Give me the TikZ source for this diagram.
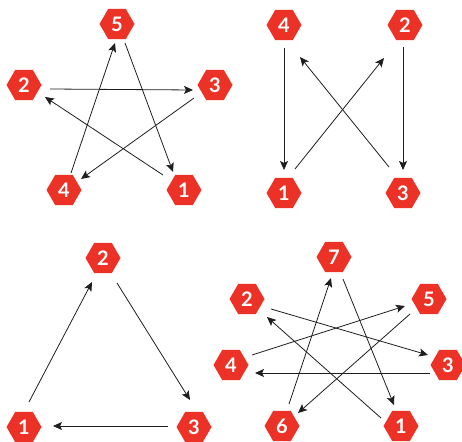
\documentclass[tikz,border=0pt]{standalone}
\usepackage{fontspec}
\setmainfont{Lato}
\usetikzlibrary{shapes.geometric,arrows.meta}
\definecolor{hexred}{RGB}{236,50,38}
\definecolor{ink}{RGB}{30,30,30}
\tikzset{
  hexnode/.style={regular polygon, regular polygon sides=6, shape border rotate=0,
    minimum size=35pt, inner sep=0pt, fill=hexred, draw=none, text=white,
    font=\fontsize{20}{20}\selectfont\bfseries},
  conn/.style={draw=ink, line width=0.8pt, -{Stealth[length=9pt,width=8pt,inset=2pt]}}
}
\begin{document}
\begin{tikzpicture}[x=1pt,y=-1pt]
\useasboundingbox (0,0) rectangle (462,441);
% ---- panel A: pentagram
\node[hexnode] (a5) at (117,24) {5};
\node[hexnode] (a2) at (24,85) {2};
\node[hexnode] (a3) at (215,85) {3};
\node[hexnode] (a4) at (64,190) {4};
\node[hexnode] (a1) at (184,190) {1};
\coordinate (a23s) at (50,89);  \coordinate (a23e) at (193,90);
\coordinate (a34s) at (194,98); \coordinate (a34e) at (81,179);
\coordinate (a45s) at (71,173); \coordinate (a45e) at (115,43);
\coordinate (a51s) at (125,43); \coordinate (a51e) at (173,172);
\coordinate (a12s) at (163,175);\coordinate (a12e) at (45,97);
\draw[conn] (a23s) -- (a23e);
\draw[conn] (a34s) -- (a34e);
\draw[conn] (a45s) -- (a45e);
\draw[conn] (a51s) -- (a51e);
\draw[conn] (a12s) -- (a12e);
% ---- panel B: square
\node[hexnode] (b4) at (284,25) {4};
\node[hexnode] (b2) at (405,25) {2};
\node[hexnode] (b1) at (284,193) {1};
\node[hexnode] (b3) at (403,193) {3};
\coordinate (b41s) at (284,48);  \coordinate (b41e) at (284,170);
\coordinate (b23s) at (403,47);  \coordinate (b23e) at (403,170);
\coordinate (b12s) at (295,169); \coordinate (b12e) at (384,58);
\coordinate (b34s) at (389,167); \coordinate (b34e) at (300,57);
\draw[conn] (b41s) -- (b41e);
\draw[conn] (b23s) -- (b23e);
\draw[conn] (b12s) -- (b12e);
\draw[conn] (b34s) -- (b34e);
% ---- panel C: triangle
\node[hexnode] (c2) at (103,258) {2};
\node[hexnode] (c1) at (24,427) {1};
\node[hexnode] (c3) at (194,427) {3};
\coordinate (c12s) at (29,402);  \coordinate (c12e) at (92,282);
\coordinate (c23s) at (117,283); \coordinate (c23e) at (190,400);
\coordinate (c31s) at (168,426); \coordinate (c31e) at (53,426);
\draw[conn] (c12s) -- (c12e);
\draw[conn] (c23s) -- (c23e);
\draw[conn] (c31s) -- (c31e);
% ---- panel D: heptagram
\node[hexnode] (d7) at (334,257) {7};
\node[hexnode] (d2) at (247,299) {2};
\node[hexnode] (d5) at (429,299) {5};
\node[hexnode] (d4) at (231,365) {4};
\node[hexnode] (d3) at (448,365) {3};
\node[hexnode] (d6) at (282,426) {6};
\node[hexnode] (d1) at (401,426) {1};
\coordinate (d23s) at (271,309); \coordinate (d23e) at (428,355);
\coordinate (d34s) at (430,373); \coordinate (d34e) at (255,373);
\coordinate (d45s) at (252,355); \coordinate (d45e) at (405,306);
\coordinate (d56s) at (410,314); \coordinate (d56e) at (298,413);
\coordinate (d67s) at (289,404); \coordinate (d67e) at (331,278);
\coordinate (d71s) at (343,279); \coordinate (d71e) at (394,405);
\coordinate (d12s) at (381,418); \coordinate (d12e) at (267,317);
\draw[conn] (d23s) -- (d23e);
\draw[conn] (d34s) -- (d34e);
\draw[conn] (d45s) -- (d45e);
\draw[conn] (d56s) -- (d56e);
\draw[conn] (d67s) -- (d67e);
\draw[conn] (d71s) -- (d71e);
\draw[conn] (d12s) -- (d12e);
\end{tikzpicture}
\end{document}
